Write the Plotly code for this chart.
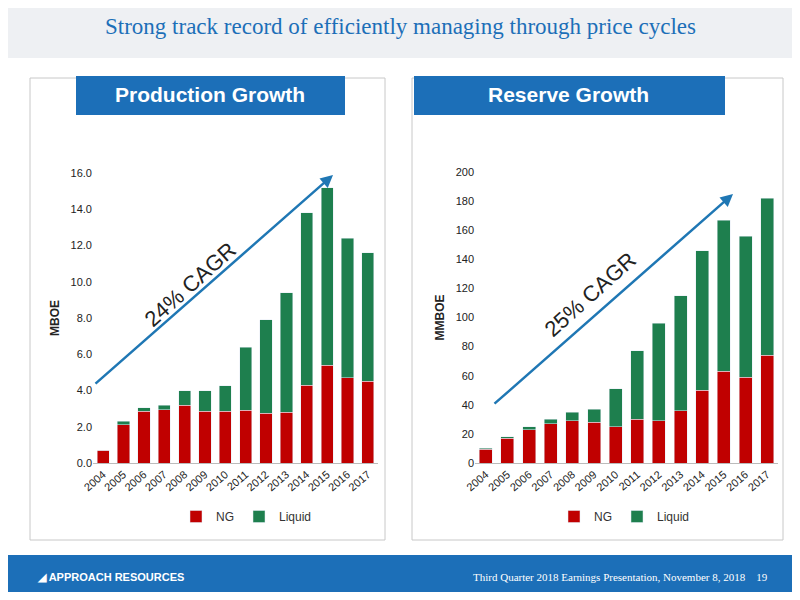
import plotly.graph_objects as go

years = [str(y) for y in range(2004, 2018)]
prod_ng = [0.7, 2.1, 2.85, 2.95, 3.2, 2.85, 2.85, 2.9, 2.75, 2.8, 4.3, 5.4, 4.7, 4.5]
prod_total = [0.7, 2.3, 3.05, 3.2, 4.0, 4.0, 4.25, 6.4, 7.9, 9.4, 13.8, 15.2, 12.4, 11.6]
prod_liq = [round(t - n, 2) for t, n in zip(prod_total, prod_ng)]
res_ng = [9.5, 17, 23, 27, 29, 28, 25, 30, 29, 36, 50, 63, 59, 74]
res_total = [10, 18, 25, 30, 35, 37, 51, 77, 96, 115, 146, 167, 156, 182]
res_liq = [t - n for t, n in zip(res_total, res_ng)]
prod_ticks = [0, 2, 4, 6, 8, 10, 12, 14, 16]
res_ticks = list(range(0, 201, 20))

RED = "#c00000"
GREEN = "#1e7f4e"
BLUE = "#1c6fb8"
W, H = 784, 584
def px(x): return (x - 8) / W
def py(y): return 1 - (y - 8) / H

fig = go.Figure()
fig.add_bar(x=years, y=prod_ng, name="NG", marker_color=RED, xaxis="x", yaxis="y", legend="legend")
fig.add_bar(x=years, y=prod_liq, name="Liquid", marker_color=GREEN, xaxis="x", yaxis="y", legend="legend")
fig.add_bar(x=years, y=res_ng, name="NG", marker_color=RED, xaxis="x2", yaxis="y2", legend="legend2")
fig.add_bar(x=years, y=res_liq, name="Liquid", marker_color=GREEN, xaxis="x2", yaxis="y2", legend="legend2")

axfont = dict(family="Liberation Sans", size=11, color="#222")
xcommon = dict(tickangle=-40, tickfont=axfont, showline=True, linecolor="#bbb", ticks="", showgrid=False, automargin=False)
fig.update_layout(
    width=W, height=H, margin=dict(l=0, r=0, t=0, b=0, autoexpand=False),
    paper_bgcolor="white", plot_bgcolor="white", barmode="stack", bargap=0.4,
    xaxis=dict(domain=[px(93), px(378)], anchor="y", **xcommon),
    yaxis=dict(domain=[py(463), py(173)], range=[0, 16], tickvals=prod_ticks, tickformat=".1f", automargin=False,
               tickfont=axfont, showgrid=False,
               title=dict(text="<b>MBOE</b>", font=dict(family="Liberation Sans", size=12, color="#222"), standoff=8)),
    xaxis2=dict(domain=[px(475), px(778)], anchor="y2", **xcommon),
    yaxis2=dict(domain=[py(463), py(172)], range=[0, 200], tickvals=res_ticks, anchor="x2", automargin=False,
                tickfont=axfont, showgrid=False,
                title=dict(text="<b>MMBOE</b>", font=dict(family="Liberation Sans", size=12, color="#222"), standoff=8)),
    legend=dict(orientation="h", traceorder="normal", x=px(176), y=py(502), yanchor="top", font=dict(family="Liberation Sans", size=12, color="#333"), bgcolor="rgba(0,0,0,0)"),
    legend2=dict(orientation="h", traceorder="normal", x=px(554), y=py(502), yanchor="top", font=dict(family="Liberation Sans", size=12, color="#333"), bgcolor="rgba(0,0,0,0)"),
)

shapes = [
    dict(type="rect", xref="paper", yref="paper", x0=0, x1=1, y0=py(58), y1=1, fillcolor="#eef0f3", line_width=0, layer="below"),
    dict(type="rect", xref="paper", yref="paper", x0=px(30), x1=px(385), y0=py(540), y1=py(78), fillcolor="white", line=dict(color="#c8c8c8", width=1), layer="below"),
    dict(type="rect", xref="paper", yref="paper", x0=px(412), x1=px(783), y0=py(540), y1=py(78), fillcolor="white", line=dict(color="#c8c8c8", width=1), layer="below"),
    dict(type="rect", xref="paper", yref="paper", x0=px(76), x1=px(345), y0=py(115), y1=py(76), fillcolor=BLUE, line_width=0),
    dict(type="rect", xref="paper", yref="paper", x0=px(414), x1=px(725), y0=py(115), y1=py(76), fillcolor=BLUE, line_width=0),
    dict(type="rect", xref="paper", yref="paper", x0=0, x1=1, y0=0, y1=py(555), fillcolor="#1c6fb8", line_width=0),
]
fig.update_layout(shapes=shapes)

C = dict(xref="paper", yref="paper", showarrow=False, xanchor="center", yanchor="middle")
ann = [
    dict(text="Strong track record of efficiently managing through price cycles", x=px(400), y=py(26),
         font=dict(family="Liberation Serif", size=23, color=BLUE), **C),
    dict(text="<b>Production Growth</b>", x=px(210), y=py(95), font=dict(family="Liberation Sans", size=21, color="white"), **C),
    dict(text="<b>Reserve Growth</b>", x=px(568), y=py(95), font=dict(family="Liberation Sans", size=21, color="white"), **C),
    dict(text="24% CAGR", x=px(190), y=py(284), textangle=-42, font=dict(family="Liberation Sans", size=22, color="#222"), **C),
    dict(text="25% CAGR", x=px(590), y=py(294), textangle=-42, font=dict(family="Liberation Sans", size=22, color="#222"), **C),
    dict(x=px(333), y=py(175), ax=-239, ay=210, xref="paper", yref="paper", axref="pixel", ayref="pixel",
         showarrow=True, arrowhead=2, arrowsize=1, arrowwidth=2.5, arrowcolor="#1f77b4", text=""),
    dict(x=px(733), y=py(194), ax=-240, ay=211, xref="paper", yref="paper", axref="pixel", ayref="pixel",
         showarrow=True, arrowhead=2, arrowsize=1, arrowwidth=2.5, arrowcolor="#1f77b4", text=""),
    dict(text="<b>◢ APPROACH RESOURCES</b>", x=px(35), y=py(577), xref="paper", yref="paper", xanchor="left", yanchor="middle", showarrow=False,
         font=dict(family="Liberation Sans", size=11, color="white")),
    dict(text="Third Quarter 2018 Earnings Presentation, November 8, 2018&nbsp;&nbsp;&nbsp;&nbsp;19", x=px(770), y=py(577),
         xref="paper", yref="paper", xanchor="right", yanchor="middle", showarrow=False,
         font=dict(family="Liberation Serif", size=11, color="white")),
]
fig.update_layout(annotations=ann)
fig.write_html("out.html")
